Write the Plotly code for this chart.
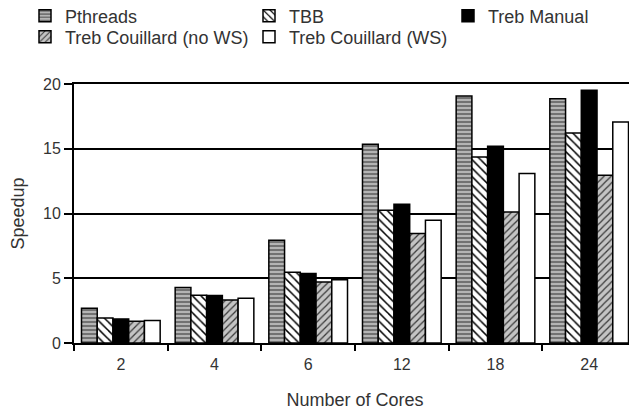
import plotly.graph_objects as go

cores = ["2", "4", "6", "12", "18", "24"]
pthreads = [2.68, 4.28, 7.93, 15.34, 19.07, 18.87]
tbb = [1.93, 3.68, 5.46, 10.25, 14.36, 16.22]
treb_manual = [1.86, 3.66, 5.36, 10.71, 15.19, 19.51]
treb_nows = [1.68, 3.32, 4.71, 8.45, 10.12, 12.95]
treb_ws = [1.73, 3.45, 4.89, 9.47, 13.08, 17.07]
y_title = "Speedup"
x_title = "Number of Cores"

FONT = "Liberation Sans, Arial, sans-serif"
TXT = "#333333"
# the page body adds an 8px margin; the figure is sized to fill the rest of the window
W, H = 629, 402
ML, MR, MT, MB = 66, 1, 76, 67

series = [
    ("Pthreads", pthreads, dict(shape="-", bgcolor="#b4b4b4", fgcolor="#6a6a6a", size=4, solidity=0.45), "#b4b4b4", "legend"),
    ("TBB", tbb, dict(shape="\\", bgcolor="#ffffff", fgcolor="#000000", size=6, solidity=0.25), "#ffffff", "legend2"),
    ("Treb Manual", treb_manual, None, "#000000", "legend3"),
    ("Treb Couillard (no WS)", treb_nows, dict(shape="/", bgcolor="#c4c4c4", fgcolor="#3a3a3a", size=5, solidity=0.25), "#c4c4c4", "legend4"),
    ("Treb Couillard (WS)", treb_ws, None, "#ffffff", "legend5"),
]

fig = go.Figure()
for name, vals, pat, col, lg in series:
    marker = dict(color=col, line=dict(color="#000000", width=1.5))
    if pat:
        marker["pattern"] = dict(fillmode="replace", **pat)
    fig.add_trace(go.Bar(x=cores, y=vals, name=name, marker=marker, legend=lg, showlegend=True))

def legend_at(px, py):
    return dict(x=px / W, y=1 - py / H, xanchor="left", yanchor="middle",
                xref="container", yref="container",
                bgcolor="rgba(0,0,0,0)", borderwidth=0, visible=True,
                font=dict(family=FONT, size=18, color=TXT), itemclick=False)

c1, c2, c3 = 17, 241, 440
r1, r2 = 8, 29

fig.update_layout(
    width=W, height=H,
    margin=dict(l=ML, r=MR, t=MT, b=MB, autoexpand=False),
    paper_bgcolor="#ffffff", plot_bgcolor="#ffffff",
    showlegend=True,
    barmode="group", bargap=0.16, bargroupgap=0,
    font=dict(family=FONT, size=16, color=TXT),
    legend=legend_at(c1, r1),
    legend2=legend_at(c2, r1),
    legend3=legend_at(c3, r1),
    legend4=legend_at(c1, r2),
    legend5=legend_at(c2, r2),
    xaxis=dict(
        type="category", showline=True, linecolor="#000000", linewidth=2, mirror=True,
        ticks="outside", tickson="boundaries", ticklen=6, tickwidth=2, tickcolor="#000000",
        tickfont=dict(family=FONT, size=16, color=TXT), showgrid=False, ticklabelstandoff=6,
        title=dict(text=x_title, font=dict(family=FONT, size=18, color=TXT), standoff=22),
    ),
    yaxis=dict(
        range=[0, 20], dtick=5, showline=True, linecolor="#000000", linewidth=2, mirror=True,
        ticks="outside", ticklen=8, tickwidth=2, tickcolor="#000000",
        showgrid=True, gridcolor="#000000", gridwidth=1.5, zeroline=False,
        tickfont=dict(family=FONT, size=16, color=TXT),
    ),
)

plot_w = W - ML - MR
fig.add_annotation(
    text=y_title, textangle=-90, showarrow=False,
    xref="paper", yref="paper", x=(9 - ML) / plot_w, y=0.5,
    xanchor="center", yanchor="middle",
    font=dict(family=FONT, size=18, color=TXT),
)

fig.write_html("out.html")
